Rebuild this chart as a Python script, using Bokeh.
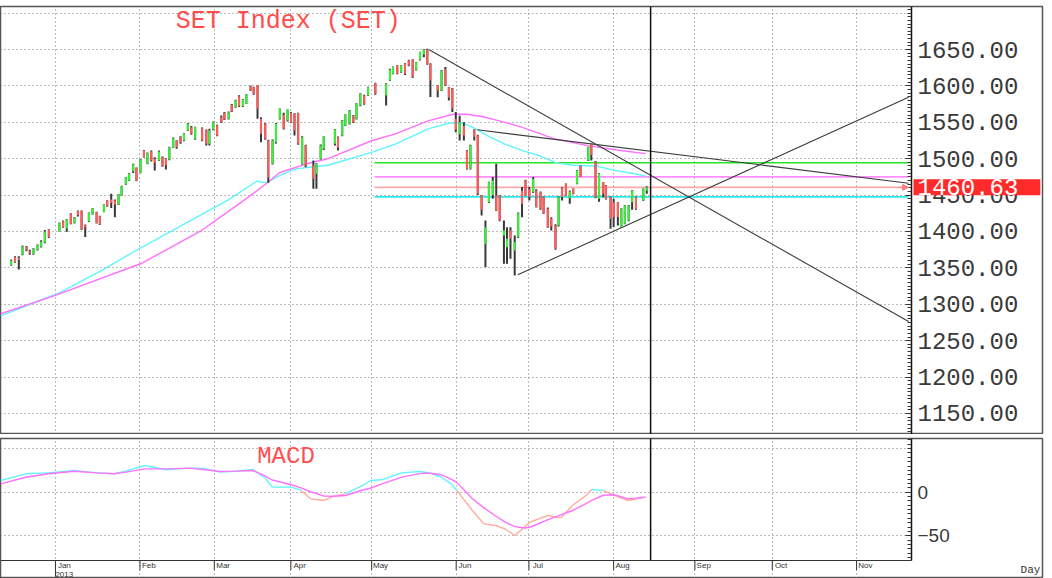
from bokeh.plotting import figure
from bokeh.layouts import column
from bokeh.models import (ColumnDataSource, Range1d, FixedTicker, Span, Label, Arrow,
                          NormalHead, Grid, LinearAxis, PrintfTickFormatter)
from bokeh.embed import file_html
from bokeh.resources import INLINE

# ---------------- data (x = trading-day position, 0 = first bar of Jan 2013) ----------------
candle_x = [-12.3, -11.3, -10.3, -9.35, -8.3, -7.45, -6.5, -5.45, -4.5, -3.55, -2.5,
            0.25, 1.2, 2.15, 3.2, 4.15, 5.05, 6.0, 6.95, 7.9, 8.85, 9.9, 10.75, 11.8, 12.65,
            13.7, 14.65, 15.6, 16.4, 17.5, 18.35, 19.4, 20.25, 21.3, 22.2, 23.1,
            24.1, 25.0, 26.1, 27.0, 27.9, 28.8, 29.8, 30.7, 31.7, 32.6, 33.6, 34.5, 35.5,
            37.3, 38.4, 39.2, 40.2, 41.2, 42.3, 43.1, 44.2, 45.0, 46.0, 46.9, 47.9, 48.8,
            49.9, 50.7, 51.7, 52.6, 53.7, 54.5, 55.6, 56.5, 57.5, 58.5, 59.5, 60.4, 61.3,
            62.25, 63.3, 64.2, 66.2, 67.0, 68.1, 68.9, 71.8, 72.6, 73.7, 74.5, 75.6, 76.6,
            77.4, 78.4, 79.4, 80.4, 82.3, 85.1, 86.1, 86.9, 88.0, 89.0, 90.0, 91.0, 92.0,
            92.9, 93.9, 94.9, 95.8, 96.6, 98.5, 99.5, 100.5, 101.4, 102.3, 103.2, 104.2,
            105.3, 106.1, 107.0, 108.0, 108.9, 109.9, 110.9, 111.8, 112.8, 113.7, 114.6,
            115.7, 116.5, 117.4, 118.5, 119.4, 120.4, 121.3, 122.3, 123.3, 124.1, 125.2,
            126.0, 127.1, 128.0, 129.1, 129.9, 130.8, 131.8, 132.8, 133.7, 134.7, 135.6,
            137.6, 138.4, 139.5, 140.4, 141.5, 142.2, 143.4, 144.2, 145.3, 146.2, 147.1,
            148.1, 149.0, 150.0, 151.9, 152.8]
candle_open = [1353.7, 1364.6, 1364, 1368.3, 1379, 1373, 1369, 1375, 1379, 1385, 1402,
               1400.4, 1414.1, 1404, 1424.2, 1411.4, 1427.8, 1428.8, 1408.6, 1414.1, 1423.3,
               1426.5, 1421, 1426.9, 1442.5, 1443.9, 1442.5, 1437, 1449.8, 1464.5, 1470,
               1482.8, 1487.4, 1480.5, 1511.2, 1492.9,
               1509.9, 1499.8, 1497.5, 1502.1, 1499.8, 1498.9, 1515.9, 1525, 1529.6, 1525,
               1538.8, 1543.3, 1527.3, 1542, 1538.8, 1520.4, 1540.1, 1545.6, 1557.1, 1563,
               1554.8, 1574, 1570.8, 1585.9, 1572.2, 1575.4, 1599.6, 1598.3, 1600.6, 1555,
               1547.9, 1525, 1493, 1522.7, 1554.8, 1560.3, 1552.5, 1563, 1561.7,
               1562.6, 1493, 1518.2, 1490.7, 1479.2, 1500, 1513.6, 1520.5, 1529.6, 1532,
               1545.6, 1548, 1559.4, 1554.8, 1573.1, 1586.9, 1586.9, 1603.8, 1586.9, 1607.5,
               1616.6, 1628, 1618.9, 1630.3, 1634.9, 1635.8, 1622.1, 1635.8, 1643, 1649.6,
               1630.3, 1600.6, 1593.7, 1623, 1598.3, 1596, 1555, 1534, 1545, 1511.3, 1486.1,
               1539.7, 1531.9, 1449.5, 1383, 1440.3, 1450, 1449.5, 1449.5, 1394.5, 1378.5,
               1401.4, 1374, 1392.2, 1456, 1470.1, 1458, 1454, 1456.3, 1454, 1447.2, 1431.2,
               1418, 1408.3, 1408.3, 1460, 1465.5, 1446, 1458.6, 1465.5, 1490, 1497.6, 1520,
               1495.3, 1445, 1467.8, 1463.2, 1447.2, 1440, 1440, 1406, 1410.6, 1415, 1440.3,
               1447.2, 1442.6, 1456]
candle_high = [1361.5, 1366, 1366, 1380.7, 1380, 1375, 1377, 1382, 1388, 1402, 1403,
               1412.5, 1415, 1417, 1425, 1419.5, 1428.8, 1429, 1409.5, 1426, 1432, 1427,
               1421.5, 1437.5, 1443, 1451.7, 1443.9, 1451, 1463, 1475, 1480, 1492.9, 1488,
               1499.5, 1512, 1508.5,
               1511.3, 1502.1, 1511.3, 1503, 1500.5, 1516.5, 1529, 1525.5, 1531, 1535, 1549,
               1545, 1544, 1543, 1540, 1541, 1551, 1546.5, 1559.4, 1564, 1565, 1575, 1581,
               1587, 1582, 1588.5, 1600.6, 1599, 1601, 1557, 1549, 1526, 1526.5, 1549, 1569,
               1563, 1567.5, 1564, 1562.5,
               1563, 1531, 1519, 1497.6, 1493.8, 1519.5, 1531, 1540.5, 1530.5, 1553, 1561,
               1567, 1560, 1576, 1590, 1588, 1599, 1604.5, 1603.8, 1623.5, 1626.5, 1628.5,
               1628.5, 1631, 1636, 1636.5, 1633, 1647, 1650.5, 1651, 1631, 1601, 1622,
               1625.8, 1598.5, 1597, 1564, 1559, 1550, 1512, 1519, 1540.5, 1533, 1450,
               1415.1, 1468.5, 1474.7, 1493, 1450, 1415, 1406, 1406, 1394.5, 1426, 1461,
               1471, 1461, 1474.7, 1458, 1455, 1448, 1433, 1419.7, 1410, 1448, 1461, 1466,
               1456.3, 1459, 1484.5, 1490.7, 1516.5, 1520.4, 1497, 1480, 1467.8, 1464, 1448,
               1445, 1440.3, 1432, 1436.5, 1436.5, 1457, 1448, 1459, 1462]
candle_low = [1353, 1357, 1347.7, 1367.4, 1373, 1368, 1368, 1374, 1378, 1384, 1391,
              1400, 1405, 1399.5, 1410, 1411, 1420.5, 1402, 1392.6, 1413, 1423, 1411, 1409,
              1426.5, 1434, 1432.4, 1419.6, 1436.5, 1449, 1464, 1469.5, 1480.5, 1469.5, 1480,
              1501.5, 1492.5,
              1496, 1483.8, 1497, 1489, 1485.2, 1498, 1515, 1513.6, 1520.4, 1524, 1538, 1533,
              1526, 1524, 1518.1, 1518.1, 1539, 1531, 1549, 1553, 1554, 1564, 1570, 1571,
              1571, 1575, 1593, 1588, 1554.8, 1522.7, 1526, 1466.9, 1492, 1521, 1554, 1540,
              1551, 1549.5, 1532,
              1519, 1492, 1488.4, 1458.6, 1458.6, 1499, 1512, 1518.2, 1511.3, 1531, 1545,
              1547, 1549, 1554, 1572, 1574, 1586, 1588, 1573.1, 1606.6, 1616, 1616, 1618,
              1615, 1627, 1611, 1621, 1635, 1639.5, 1629, 1584.6, 1584.5, 1593, 1600, 1580,
              1564, 1536.4, 1525, 1525, 1485, 1485, 1525, 1450, 1422, 1351, 1439, 1445, 1428,
              1414, 1355.6, 1355.6, 1362.5, 1339.6, 1391, 1419.7, 1449, 1442.6, 1453, 1433,
              1430, 1424, 1405, 1401.4, 1375, 1407, 1442.6, 1449, 1438, 1451, 1465, 1474.7,
              1497, 1497.6, 1446, 1440.9, 1447.2, 1444, 1403.7, 1406, 1408.3, 1405, 1410,
              1414, 1430, 1430, 1442, 1452]
candle_close = [1360, 1358, 1361, 1379.8, 1375, 1370, 1376, 1381, 1386, 1400, 1392,
                1411.8, 1405.9, 1416.4, 1410.4, 1418.7, 1422.4, 1402.7, 1405.9, 1425.6,
                1431.5, 1411.8, 1409.5, 1437, 1434.7, 1439.3, 1437, 1450.7, 1462.2, 1474.5,
                1479.1, 1492, 1470, 1498.8, 1502, 1508,
                1497.5, 1494.3, 1509.9, 1489.8, 1491, 1515.9, 1528.2, 1515.9, 1522.7, 1534.2,
                1547.9, 1534.2, 1543.3, 1525, 1520.4, 1538.8, 1550.2, 1531.9, 1550.2, 1553.9,
                1563.9, 1564.9, 1580, 1572.2, 1581.3, 1587.7, 1593.7, 1589.1, 1568.5, 1534.2,
                1527.3, 1474.6, 1525, 1547.9, 1568.5, 1541, 1567.1, 1550.2, 1538.8,
                1520.5, 1529.6, 1490.7, 1472.4, 1493, 1518.2, 1530.5, 1539.7, 1515, 1552.5,
                1560.7, 1566.2, 1550.2, 1575.4, 1589.1, 1575.4, 1598.3, 1589.1, 1602.9,
                1622.1, 1625.8, 1616.6, 1628, 1616.6, 1628, 1612, 1632.6, 1646.4, 1649.6,
                1630.3, 1607.5, 1593.7, 1621.2, 1601, 1584, 1568.5, 1540, 1550, 1532, 1486.1,
                1518.2, 1530, 1451.8, 1430, 1406, 1467.8, 1470, 1428.9, 1415, 1401.4, 1390,
                1390, 1385.4, 1425.2, 1438, 1449.5, 1447, 1472, 1433.5, 1431.2, 1424.3, 1406,
                1407, 1376.2, 1447.2, 1447, 1449.5, 1455, 1451.8, 1483.8, 1475, 1515.9, 1505,
                1447.2, 1479.2, 1452, 1444.9, 1418, 1420, 1420, 1431.2, 1435.8, 1435.8,
                1456.3, 1431.2, 1458.6, 1460.63]

ma_fast_x = [-15, -2.5, 0, 11, 21.5, 35, 44, 51.5, 54, 57.5, 61.5, 70, 81.5, 87.5, 96, 101.5,
             105, 108, 112, 116, 120.5, 125, 129, 133.5, 139.5, 144.5, 150, 152.5]
ma_fast = [1284, 1310, 1315, 1346, 1378, 1417, 1443, 1469, 1467, 1477, 1486, 1491, 1509, 1520,
           1541, 1549, 1549, 1542, 1530, 1520, 1511, 1504, 1495, 1491, 1490, 1484, 1479, 1476]
ma_slow_x = [-15, -1, 21.5, 37, 48, 54, 57.5, 64.5, 70, 81.5, 87.5, 96, 102.5, 106, 110,
             114.5, 120.5, 129, 137.5, 146.5, 152.5]
ma_slow = [1287, 1312, 1356, 1401, 1442, 1466, 1481, 1493, 1500, 1525, 1534, 1552, 1561, 1561,
           1558, 1552, 1543, 1527, 1518, 1511, 1507]

trend_x0 = [96.3, 108.8, 119.3]
trend_y0 = [1649.6, 1539.7, 1340.5]
trend_x1 = [220.8, 220.8, 220.8]
trend_y1 = [1276.4, 1466.3, 1584.5]

level_values = [1494.4, 1475.0, 1460.63, 1447.5]
level_colors = ["#22e622", "#ff8cff", "#ffaaaa", "#2ee8e8"]
level_start, level_end = 82.1, 220.8
last_price = 1460.63
cursor_x = 153.8

macd_x = [-15, -8.5, -2.5, 4, 10, 14.5, 17.5, 22.5, 28, 34, 37.5, 42, 46, 50.5, 53.5, 55.5,
          60.5, 63, 65.5, 69, 71.5, 74.5, 79, 81, 84, 89, 94, 96.5, 99.5, 102, 103.5, 107.5,
          110.5, 113.5, 116, 118.5, 121, 122.5, 127, 130.5, 133.5, 137, 138.5, 141.5, 144.5,
          148, 152.5]
macd_line = [13.4, 21.1, 22.2, 24.9, 22.2, 21.1, 24.1, 30.6, 25.7, 27.6, 27.6, 23, 24.1, 26,
             17.2, 5.8, 5.8, 2, -7.6, -9.5, -4.5, -1.9, 7.7, 13.4, 14.2, 22.2, 23.7, 21.8,
             17.2, 9.6, 1.9, -21, -36.3, -38.2, -42, -49.7, -40.1, -34.4, -26.7, -29.4,
             -15.2, -3.8, 3.1, 1.9, -3.8, -9.5, -5.7]
signal_line = [9.6, 17.2, 21.1, 24.1, 22.2, 21.1, 23, 26.8, 26.8, 27.6, 26, 23.7, 24.2, 24.9,
               19, 14, 8.5, 5, 0.5, -4.5, -4.6, -3.8, 2.5, 4.5, 9.5, 17, 21.6, 21.8, 20, 15,
               11, -7.6, -18, -27, -34.4, -39.5, -41, -40.2, -31.7, -26, -21, -13, -9.5,
               -3.5, -3, -7.6, -5.7]

months = ["Jan", "Feb", "Mar", "Apr", "May", "Jun", "Jul", "Aug", "Sep", "Oct", "Nov"]
month_pos = [-0.78, 21.17, 40.47, 60.36, 81.35, 103.3, 122.2, 144.2, 165.3, 185.4, 207.3]
year_label = "2013"
price_ticks = [1150, 1200, 1250, 1300, 1350, 1400, 1450, 1500, 1550, 1600, 1650]
price_grid = price_ticks + [1700]
macd_ticks = [0, -50]
macd_grid = [50, 0, -50]

# ---------------- styling / geometry ----------------
MONO = "Liberation Mono"
GREEN, RED, WICK = "#3bf03b", "#ff5c5c", "#383838"
CYAN, MAGENTA, SALMON = "#5ff5ff", "#ff70ff", "#ffab9c"
X0, X1 = -15.06, 221.56          # data area (left edge .. price axis)
XR = 255.59                      # right edge of the canvas area (label column)
MACD_TOP = 61.6
MACD_AXIS_Y = -78.3              # where the date axis sits in the MACD panel
MACD_TICK_END = -89.5            # lower end of the month tick marks
LABEL_SHIFT = 2.3                # month names sit just right of their tick
GRID_COLOR = "#7a7a7a"


def add_grids(fig, xticks, yticks):
    for g in fig.grid:
        g.visible = False
    fig.add_layout(Grid(dimension=0, ticker=FixedTicker(ticks=xticks),
                        grid_line_color=GRID_COLOR, grid_line_dash="1 3",
                        grid_line_width=1), "center")
    hg = Grid(dimension=1, ticker=FixedTicker(ticks=yticks), grid_line_color=GRID_COLOR,
              grid_line_dash="1 3", grid_line_width=1)
    try:
        hg.cross_bounds = (X0, X1)
        fig.add_layout(hg, "center")
    except Exception:
        fig.segment(x0=[X0] * len(yticks), x1=[X1] * len(yticks), y0=yticks, y1=yticks,
                    line_color=GRID_COLOR, line_dash="1 3", line_width=1)


def price_style_axis(ax, font, size):
    ax.major_label_text_font = font
    ax.major_label_text_font_size = size
    ax.major_label_text_color = "#3a3a3a"
    ax.major_label_text_align = "left"
    ax.major_tick_in, ax.major_tick_out = 6, 0
    ax.minor_tick_in, ax.minor_tick_out = 4, 0
    ax.major_label_standoff = 6
    ax.axis_line_color = "#111111"
    ax.axis_line_width = 1.5
    ax.major_tick_line_color = "#333333"
    ax.minor_tick_line_color = "#333333"


p = figure(width=1052, height=434, x_range=Range1d(X0, XR),
           y_range=Range1d(1121.15, 1709.07), x_axis_location=None, y_axis_location=None,
           toolbar_location=None, output_backend="svg", min_border_left=0,
           min_border_right=10, min_border_top=6, min_border_bottom=0,
           background_fill_color="white", border_fill_color="white")
p.outline_line_color = "#555555"
p.outline_line_width = 1.5
add_grids(p, month_pos, price_grid)

ay = LinearAxis(fixed_location=X1,
                ticker=FixedTicker(ticks=price_ticks, minor_ticks=list(range(1125, 1710, 5))),
                formatter=PrintfTickFormatter(format="%.2f"))
price_style_axis(ay, MONO, "24px")
p.add_layout(ay, "right")

# horizontal levels
p.segment(x0=[level_start] * len(level_values), x1=[level_end] * len(level_values),
          y0=level_values, y1=level_values, line_color=level_colors, line_width=1.6)
p.add_layout(Arrow(end=NormalHead(size=6, fill_color="#ff8080", line_color="#ff8080"),
                   x_start=level_end - 2.5, y_start=last_price, x_end=level_end,
                   y_end=last_price, line_color="#ff8080", line_width=1))

# moving averages
p.line(ma_fast_x, ma_fast, line_color=CYAN, line_width=1.4)
p.line(ma_slow_x, ma_slow, line_color=MAGENTA, line_width=1.4)

# trend lines
p.segment(x0=trend_x0, y0=trend_y0, x1=trend_x1, y1=trend_y1, line_color="#3c3c3c",
          line_width=1.1)

# candles
up = [c >= o for o, c in zip(candle_open, candle_close)]
src = ColumnDataSource(dict(
    x=candle_x, high=candle_high, low=candle_low,
    top=[max(o, c) for o, c in zip(candle_open, candle_close)],
    bottom=[min(o, c) for o, c in zip(candle_open, candle_close)],
    color=[GREEN if u else RED for u in up]))
p.segment(x0="x", x1="x", y0="low", y1="high", source=src, line_color=WICK, line_width=2)
p.vbar(x="x", width=0.55, top="top", bottom="bottom", source=src, fill_color="color",
       line_color=None)

p.add_layout(Span(location=cursor_x, dimension="height", line_color="#111111", line_width=1.5))

p.add_layout(Label(x=59.7, y=1688.0, text="SET Index (SET)", text_font=MONO,
                   text_font_size="25px", text_color="#ff4d4d", text_align="center",
                   text_baseline="alphabetic"))
p.add_layout(Label(x=X1 + 0.52, y=last_price, text=f"{last_price:.2f}", text_font=MONO,
                   text_font_size="24px", text_color="white", text_baseline="middle",
                   text_align="left", background_fill_color="#ff2a2a",
                   padding=dict(left=4, right=22, top=0, bottom=0)))

# ---------------- MACD panel ----------------
q = figure(width=1052, height=144, x_range=p.x_range, y_range=Range1d(-99.0, MACD_TOP),
           x_axis_location=None, y_axis_location=None, toolbar_location=None,
           output_backend="svg", min_border_left=0, min_border_right=10, min_border_top=4,
           min_border_bottom=0, background_fill_color="white", border_fill_color="white")
q.outline_line_color = "#555555"
q.outline_line_width = 1.5
add_grids(q, month_pos, macd_grid)

qy = LinearAxis(fixed_location=X1,
                ticker=FixedTicker(ticks=macd_ticks, minor_ticks=list(range(-75, 65, 5))),
                major_label_overrides={0: "0", -50: "\u221250"})
price_style_axis(qy, "Liberation Sans", "19px")
qy.bounds = (MACD_AXIS_Y, MACD_TOP)
q.add_layout(qy, "right")

label_pos = [m + LABEL_SHIFT for m in month_pos]
qx = LinearAxis(fixed_location=MACD_AXIS_Y, ticker=FixedTicker(ticks=label_pos),
                major_label_overrides={pos: (f"{m}\n{year_label}" if i == 0 else m)
                                       for i, (pos, m) in enumerate(zip(label_pos, months))})
qx.bounds = (X0, X1)
qx.major_label_text_font = "Liberation Sans"
qx.major_label_text_font_size = "8px"
qx.major_label_text_line_height = 0.95
qx.major_label_text_color = "#333333"
qx.major_tick_in, qx.major_tick_out = 0, 0
qx.major_tick_line_color = None
qx.minor_tick_line_color = None
qx.major_label_standoff = 1
qx.axis_line_color = "#333333"
q.add_layout(qx, "below")

# month tick marks across the date band (Jan's is longer, reaching the year line)
q.segment(x0=month_pos, x1=month_pos, y0=[MACD_AXIS_Y] * len(month_pos),
          y1=[-97.0] + [MACD_TICK_END] * (len(month_pos) - 1), line_color="#333333",
          line_width=1)

seg_color = [CYAN if (a + b) / 2 >= 0 else SALMON for a, b in zip(macd_line[:-1], macd_line[1:])]
q.segment(x0=macd_x[:-1], x1=macd_x[1:], y0=macd_line[:-1], y1=macd_line[1:],
          line_color=seg_color, line_width=1.4)
q.line(macd_x, signal_line, line_color=MAGENTA, line_width=1.4)
q.segment(x0=[cursor_x], x1=[cursor_x], y0=[MACD_AXIS_Y], y1=[MACD_TOP], line_color="#111111",
          line_width=1.5)
q.add_layout(Label(x=59.1, y=40.9, text="MACD", text_font=MONO, text_font_size="24px",
                   text_color="#ff5050", text_align="center", text_baseline="alphabetic"))
q.add_layout(Label(x=249.9, y=-89.0, text="Day", text_font=MONO, text_font_size="11px",
                   text_color="#333333", text_baseline="middle"))

layout = column(p, q, spacing=0)
open("out.html", "w").write(file_html(layout, INLINE))
